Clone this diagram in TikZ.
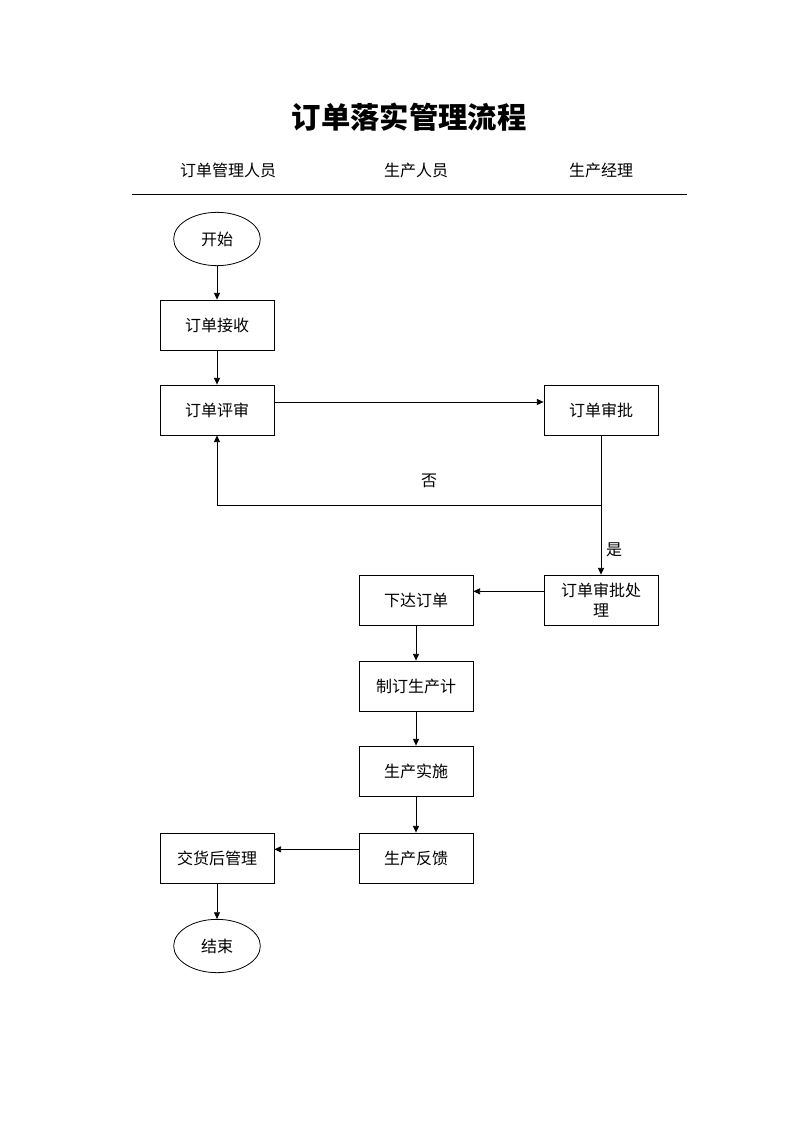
\documentclass[tikz,border=0pt]{standalone}
\usepackage{fontspec}
\setmainfont{Noto Sans CJK SC}
\usetikzlibrary{shapes.geometric,arrows.meta}

\begin{document}
\begin{tikzpicture}[x=0.75pt,y=-0.75pt,line width=0.6pt,
	box/.style={draw,minimum width=85.5pt,minimum height=37.5pt,inner sep=1pt,align=center,font=\fontsize{12}{15}\selectfont},
	term/.style={draw,ellipse,minimum width=65pt,minimum height=40pt,inner sep=0pt,font=\fontsize{12}{15}\selectfont},
	arr/.style={-{Triangle[length=5pt,width=4.5pt]}}]
			\useasboundingbox (0,0) rectangle (794,1123);
			% title and lanes
			\node (title) at (409,117) {\fontsize{22}{26}\selectfont\bfseries 订单落实管理流程};
			\foreach \n/\x/\t in
			{lane1/228/订单管理人员, lane2/416/生产人员, lane3/601/生产经理}{
				\node[font=\fontsize{12}{15}\selectfont] (\n) at (\x,170) {\t};
			}
			\coordinate (rl) at (132,194);
			\coordinate (rr) at (687,194);
			\draw (rl) -- (rr);
			
			% nodes
			\node[term] (start) at (217,239) {开始};
			\foreach \n/\x/\y/\t in
			{recv/217/325/订单接收, review/217/410/订单评审, approve/601/410/订单审批,
			 issue/416/600/下达订单, plan/416/686/制订生产计, make/416/771/生产实施,
			 fb/416/858/生产反馈, after/217/858/交货后管理}{
				\node[box] (\n) at (\x,\y) {\t};
			}
			\node[box] (deal) at (601,600) {订单审批处\\理};
			\node[term] (finish) at (217,946) {结束};
			
			% connectors
			\draw[arr] (start) -- (recv);
			\draw[arr] (recv) -- (review);
			\draw[arr] ([yshift=6pt]review.east) -- ([yshift=6pt]approve.west);
			\coordinate (split) at (601,505);
			\draw[arr] (approve.south) -- (split) -| (review.south);
			\draw[arr] (split) -- (deal.north);
			\node[font=\fontsize{12}{15}\selectfont] (no) at (429,481) {否};
			\node[font=\fontsize{12}{15}\selectfont] (yes) at (614,550) {是};
			\draw[arr] ([yshift=6.5pt]deal.west) -- ([yshift=6.5pt]issue.east);
			\foreach \a/\b in {issue/plan, plan/make, make/fb}{
				\draw[arr] (\a) -- (\b);
			}
			\draw[arr] ([yshift=6.5pt]fb.west) -- ([yshift=6.5pt]after.east);
			\draw[arr] (after) -- (finish);
		\end{tikzpicture}
\end{document}
